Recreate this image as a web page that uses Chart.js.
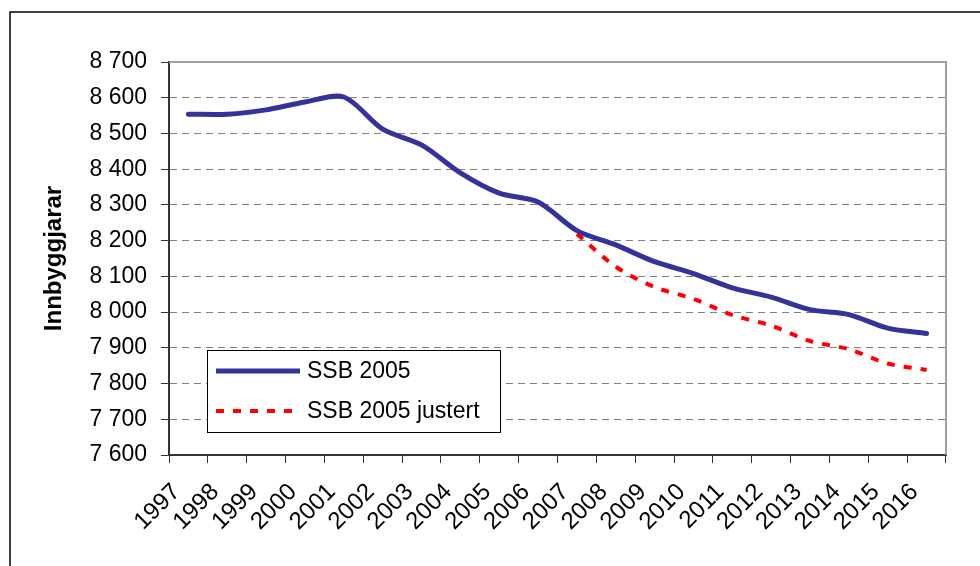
<!DOCTYPE html>
<html>
<head>
<meta charset="utf-8">
<script src="https://cdn.jsdelivr.net/npm/chart.js@4.4.1/dist/chart.umd.min.js"></script>
<style>
  body { margin: 0; background: #fff; }
  canvas { display: block; }
</style>
</head>
<body>
<canvas id="chart" width="980" height="566"></canvas>
<script>
const years = ['1997','1998','1999','2000','2001','2002','2003','2004','2005','2006',
               '2007','2008','2009','2010','2011','2012','2013','2014','2015','2016'];
const ssb2005 = [8554, 8554, 8566, 8588, 8602, 8512, 8468, 8390, 8333, 8308,
                 8228, 8188, 8141, 8108, 8068, 8042, 8007, 7993, 7955, 7940];
const ssb2005Justert = [null, null, null, null, null, null, null, null, null, null,
                        8219, 8127, 8070, 8037, 7992, 7962, 7919, 7896, 7856, 7838];
const yTicks = { min: 7600, max: 8700, step: 100 };

const FONT = 'Liberation Sans, Arial, sans-serif';
Chart.defaults.font.family = FONT;
Chart.defaults.color = '#000';

// ramme, kantlinjer og forklaring
const decor = {
  id: 'decor',
  beforeDraw(chart) {
    const c = chart.ctx;
    c.save();
    c.fillStyle = '#fff';
    c.fillRect(0, 0, chart.width, chart.height);
    c.strokeStyle = '#000';
    c.lineWidth = 1.5;
    c.beginPath();
    c.moveTo(10, chart.height);
    c.lineTo(10, 12);
    c.lineTo(chart.width, 12);
    c.stroke();
    c.restore();
  },
  afterDraw(chart) {
    const c = chart.ctx;
    const a = chart.chartArea;
    c.save();
    c.strokeStyle = '#a0a0a0';
    c.lineWidth = 2;
    c.beginPath();
    c.moveTo(a.left, a.top);
    c.lineTo(a.right, a.top);
    c.lineTo(a.right, a.bottom);
    c.stroke();

    // forklaring
    const bx = 207, by = 350, bw = 293, bh = 82;
    c.fillStyle = '#fff';
    c.fillRect(bx, by, bw, bh);
    c.strokeStyle = '#000';
    c.lineWidth = 1;
    c.strokeRect(bx + 0.5, by + 0.5, bw, bh);
    c.font = '23px ' + FONT;
    c.textBaseline = 'middle';
    c.textAlign = 'left';
    chart.data.datasets.forEach((ds, i) => {
      const y = 371 + i * 40;
      c.strokeStyle = ds.borderColor;
      c.lineWidth = ds.borderWidth;
      c.setLineDash(ds.borderDash || []);
      c.beginPath();
      c.moveTo(216, y);
      c.lineTo(300, y);
      c.stroke();
      c.setLineDash([]);
      c.fillStyle = '#000';
      c.fillText(ds.label, 307, y + 1);
    });
    c.restore();
  }
};

new Chart(document.getElementById('chart'), {
  type: 'line',
  data: {
    labels: years,
    datasets: [{
      label: 'SSB 2005',
      data: ssb2005,
      borderColor: '#333399',
      borderWidth: 5,
      tension: 0.3,
      pointRadius: 0,
      borderCapStyle: 'round'
    }, {
      label: 'SSB 2005 justert',
      data: ssb2005Justert,
      borderColor: '#ff0000',
      borderWidth: 4,
      borderDash: [8, 9],
      tension: 0.3,
      pointRadius: 0
    }]
  },
  options: {
    responsive: false,
    animation: false,
    layout: { padding: { left: 0, top: 62, right: 34, bottom: 0 } },
    plugins: { legend: { display: false }, tooltip: { enabled: false } },
    scales: {
      x: {
        offset: true,
        grid: { offset: true, drawOnChartArea: false, drawTicks: true, tickLength: 8, color: '#333', lineWidth: 1 },
        border: { color: '#333', width: 2 },
        ticks: { autoSkip: false, minRotation: 45, maxRotation: 45, padding: 15, labelOffset: -12, font: { size: 24 } },
        afterFit(scale) { scale.height = 111; }
      },
      y: {
        min: yTicks.min,
        max: yTicks.max,
        grid: { color: '#808080', lineWidth: 1, tickLength: 8, tickColor: '#333' },
        border: { color: '#333', width: 2, dash: [7, 5] },
        ticks: {
          stepSize: yTicks.step,
          padding: 14,
          font: { size: 23 },
          callback: v => String(v).replace(/\B(?=(\d{3})+(?!\d))/g, ' ')
        },
        title: { display: true, text: 'Innbyggjarar', font: { size: 24, weight: 'bold' }, padding: { top: 40, bottom: 0 } },
        afterFit(scale) { scale.width = 169; }
      }
    }
  },
  plugins: [decor]
});
</script>
</body>
</html>
